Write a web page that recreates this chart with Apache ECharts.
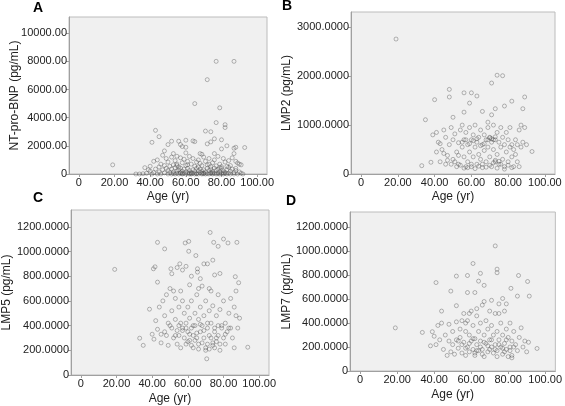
<!DOCTYPE html>
<html>
<head>
<meta charset="utf-8">
<script src="https://cdn.jsdelivr.net/npm/echarts@6/dist/echarts.min.js"></script>
<style>html,body{margin:0;padding:0;background:#fff}#c{width:565px;height:406px}</style>
</head>
<body>
<div id="c"></div>
<script>
// ---- data ----
const panelLetters = ['A', 'B', 'C', 'D'];
const yNames = ['NT-pro-BNP (pg/mL)', 'LMP2 (pg/mL)', 'LMP5 (pg/mL)', 'LMP7 (pg/mL)'];
const xName = 'Age (yr)';
const xTicks = [0, 20, 40, 60, 80, 100];
const yTicksA = [0, 2000, 4000, 6000, 8000, 10000];
const yTicksB = [0, 1000, 2000, 3000];
const yTicksC = [0, 200, 400, 600, 800, 1000, 1200];
const yTicksD = [0, 200, 400, 600, 800, 1000, 1200];

const dataA = [[19,650],[43,3100],[45,2650],[41,2250],[77,8000],[87,8000],[72,6700],[65,5000],[79,4700],[77,3650],[82,3500],[82,3300],[71,3050],[74,3000],[76,2500],[80,2430],[52,2330],[56,2330],[60,2400],[64,2350],[65,2300],[57,2090],[58,1950],[60,1900],[50,2090],[72,2140],[74,2280],[87,1830],[88,1900],[93,1880],[48,1640],[47,1330],[53,1450],[55,1260],[60,1500],[68,1450],[69,1400],[76,1450],[80,1780],[83,2000],[87,1450],[89,780],
[42,900],[44,1000],[46,700],[49,1100],[50,850],[52,1200],[54,950],[55,700],[57,1150],[58,800],[59,1050],[61,900],[62,1250],[63,700],[64,1100],[66,850],[67,1000],[68,750],[70,1200],[71,900],[72,650],[73,1100],[75,800],[76,1000],[78,1250],[79,700],[81,1100],[82,850],[84,950],[85,600],[86,1150],[88,900],[90,700],[91,650],[40,550],[45,500],[48,600],[51,550],[53,650],[56,500],[60,600],[65,550],[69,600],[74,520],[77,580],[80,520],[83,540],[37,450],[39,300],
[32,0],[34,0],[36,20],[38,50],[40,200],[41,0],[42,100],[43,350],[44,0],[45,150],[46,0],[47,300],[48,80],[49,400],[50,0],[50,250],[51,100],[52,0],[52,350],[53,150],[54,0],[54,450],[55,200],[55,50],[56,0],[56,300],[57,100],[57,420],[58,0],[58,200],[59,50],[59,350],[60,0],[60,150],[61,400],[61,80],[62,0],[62,250],[63,120],[63,0],[64,300],[64,50],[65,0],[65,180],[66,400],[66,30],[67,0],[67,220],[68,100],[68,350],[69,0],[69,200],[70,60],[70,300],[71,0],[71,150],[72,400],[72,20],[73,0],[73,250],[74,100],[74,350],[75,0],[75,180],[76,40],[76,420],[77,0],[77,260],[78,90],[78,330],[79,0],[79,150],[80,50],[80,400],[81,0],[81,230],[82,120],[83,0],[83,300],[84,60],[85,0],[85,200],[86,350],[87,0],[87,100],[88,250],[89,0],[90,150],[91,50],[92,0],[58,30],[62,60],[66,10],[70,20],[74,40],[78,10],[82,30],[55,600],[61,650],[67,500],[73,700],[79,450],[84,480],[88,400],[53,30],[57,60],[63,30],[69,40],[75,70],[81,80]];

const dataB = [[19,2760],[74,2020],[77,2010],[71,1860],[48,1730],[48,1575],[40,1520],[56,1660],[60,1660],[63,1595],[59,1450],[89,1575],[82,1490],[88,1335],[78,1390],[73,1335],[35,1110],[50,1160],[56,1265],[66,1280],[71,1210],[69,1060],[93,460],[33,170],[38,240],
[39,800],[41,850],[42,650],[43,620],[44,500],[45,900],[46,750],[47,380],[48,600],[49,950],[50,700],[50,300],[51,820],[52,450],[53,640],[53,200],[54,900],[55,550],[55,1000],[56,700],[56,350],[57,850],[57,150],[58,600],[58,250],[59,950],[59,450],[60,700],[60,150],[61,800],[61,350],[62,550],[62,1000],[63,650],[63,200],[64,750],[64,400],[65,900],[65,300],[66,600],[66,130],[67,800],[67,480],[68,700],[68,250],[69,950],[69,550],[70,750],[70,350],[71,650],[71,150],[72,1000],[72,500],[73,700],[73,250],[74,850],[74,400],[75,650],[75,200],[76,950],[76,550],[77,750],[77,300],[78,600],[78,150],[79,850],[79,450],[80,700],[80,250],[81,550],[81,950],[82,600],[82,350],[83,500],[83,150],[84,700],[84,400],[85,600],[85,250],[86,900],[86,150],[87,1000],[87,550],[88,650],[89,950],[90,600],
[52,150],[54,180],[56,120],[58,130],[60,200],[62,110],[64,160],[66,200],[68,140],[70,180],[72,230],[74,120],[76,200],[78,100],[80,180],[82,130],[73,280],[75,260],[55,650],[57,700],[59,620],[61,680],[63,720],[65,580],[67,620],[69,700],[71,720],[73,760],[70,740],[72,700],[45,420],[47,280],[43,250],[41,450],[49,200],[51,250],[53,380],[46,200]];

const dataC = [[19,855],[72.5,1154],[43,1074],[47,1021],[58.5,1069],[60.5,1082],[74.5,1074],[80,1101],[82.5,1069],[87.5,1074],[77,1042],[60.5,1002],[64.5,967],[40.7,860],[41.6,876],[50.5,860],[55.5,900],[59,880],[71,900],[74,930],[65.4,860],[65.4,833],[78,822],[86.6,796],[88.5,747],[43,752],[38.5,533],[33,298],[35,240],[93.6,225],[70.6,131],
[40,330],[41,290],[42,440],[43,370],[44,550],[45,260],[46,600],[47,480],[48,650],[48,320],[49,240],[50,700],[50,400],[51,520],[52,300],[52,680],[53,450],[54,360],[54,250],[55,550],[55,320],[56,420],[56,680],[56,220],[57,380],[57,600],[58,300],[58,500],[59,420],[59,250],[60,550],[60,350],[61,280],[61,460],[62,600],[62,380],[63,320],[63,220],[64,500],[64,400],[65,300],[65,650],[66,450],[66,250],[67,350],[67,550],[68,400],[68,720],[69,300],[69,480],[70,220],[70,600],[71,380],[71,250],[72,520],[72,320],[73,420],[73,680],[74,260],[74,560],[75,380],[75,220],[76,480],[76,300],[77,650],[77,400],[78,250],[78,530],[79,380],[80,300],[80,600],[81,420],[81,250],[82,350],[83,500],[84,380],[85,300],[86,220],[86,550],[87,480],[88,380],[89,460],[84,620],[87,680],[67,780],[69,900],[62,800],[57,850],[54,870],[51,820],[75,810],[72,700],[66,700],[53,620],[61,730],
[45,330],[47,350],[49,420],[51,380],[53,320],[55,400],[57,360],[59,380],[61,330],[63,400],[65,340],[67,410],[69,360],[71,420],[73,300],[75,350],[77,320],[79,400],[81,330],[83,380],[60,270],[62,240],[64,280],[66,210],[68,260],[70,200],[72,210],[74,240],[76,270],[78,200]];

const dataD = [[19,360],[73,1044],[61,897],[74,850],[74,820],[41,738],[52,792],[58,797],[65,815],[64,750],[67,715],[49,667],[58,655],[62,655],[85.6,797],[90.5,747],[91.4,625],[81.5,690],[77,605],[85,625],[33.6,322],[39,328],[44,500],[52,545],[95.6,188],
[38,210],[40,290],[41,220],[42,380],[43,260],[44,400],[45,180],[46,300],[47,130],[48,250],[48,390],[49,160],[50,330],[50,220],[51,140],[52,410],[52,260],[53,190],[54,350],[54,280],[55,420],[55,150],[56,240],[56,480],[57,130],[57,330],[58,200],[58,420],[59,300],[59,160],[60,500],[60,250],[61,180],[61,380],[62,270],[62,150],[63,460],[63,220],[64,330],[64,170],[65,250],[65,400],[66,180],[66,550],[67,300],[67,120],[68,230],[68,420],[69,160],[69,350],[70,500],[70,260],[71,200],[71,380],[72,150],[72,300],[73,480],[73,220],[74,330],[74,170],[75,260],[75,560],[76,200],[76,400],[77,300],[77,140],[78,230],[78,500],[79,180],[79,350],[80,280],[80,120],[81,400],[81,200],[82,250],[82,130],[83,330],[84,220],[85,170],[86,280],[87,360],[88,200],[89,250],[90,160],[91,240],
[57,400],[59,480],[63,520],[67,580],[71,590],[75,480],[79,560],[53,250],[55,220],[57,190],[59,230],[61,270],[63,170],[65,200],[67,240],[69,210],[71,260],[73,180],[75,220],[77,190],[79,260],[81,170],[83,200],[62,130],[66,140],[70,180],[74,120],[78,160],[82,110]];

// ---- layout ----
const FONT = 'Liberation Sans, Arial, sans-serif';
const panels = [
  {data: dataA, yTicks: yTicksA, ymax: 11150, dec: 2, grid: {left: 69, top: 17, width: 198, height: 157}, nameGap: 48, xGap: 17, letter: [38, 8]},
  {data: dataB, yTicks: yTicksB, ymax: 3313, dec: 4, grid: {left: 351, top: 12, width: 204, height: 162}, nameGap: 58, xGap: 17, letter: [287, 6]},
  {data: dataC, yTicks: yTicksC, ymax: 1336, dec: 4, grid: {left: 69, top: 210, width: 200, height: 167}, nameGap: 58, xGap: 18, letter: [38, 198]},
  {data: dataD, yTicks: yTicksD, ymax: 1327, dec: 4, grid: {left: 350, top: 212, width: 206, height: 159}, nameGap: 57, xGap: 18, letter: [291, 201]}
];

const lineCol = '#a0a0a0';
const option = {
  animation: false,
  backgroundColor: '#fff',
  grid: [], xAxis: [], yAxis: [], series: [],
  graphic: []
};

panels.forEach((p, i) => {
  option.grid.push(Object.assign({show: true, backgroundColor: '#f0f0f0', borderColor: '#bcbcbc', borderWidth: 1}, p.grid));
  option.xAxis.push({
    gridIndex: i, type: 'value', min: -5.5, max: 105.5,
    name: xName, nameLocation: 'middle', nameGap: p.xGap, nameMoveOverlap: false,
    nameTextStyle: {color: '#222', fontFamily: FONT, fontSize: 12, fontWeight: 'normal'},
    axisLine: {show: true, onZero: false, lineStyle: {color: lineCol, width: 1}},
    splitLine: {show: false},
    axisTick: {show: true, length: 3, lineStyle: {color: lineCol}, customValues: xTicks},
    axisLabel: {customValues: xTicks, color: '#222', fontFamily: FONT, fontSize: 11, margin: 3,
      formatter: v => v === 0 ? '0' : v.toFixed(2)}
  });
  option.yAxis.push({
    gridIndex: i, type: 'value', min: 0, max: p.ymax,
    name: yNames[i], nameLocation: 'middle', nameGap: p.nameGap, nameRotate: 90, nameMoveOverlap: false,
    nameTextStyle: {color: '#222', fontFamily: FONT, fontSize: 12, fontWeight: 'normal'},
    axisLine: {show: true, onZero: false, lineStyle: {color: lineCol, width: 1}},
    splitLine: {show: false},
    axisTick: {show: true, length: 3, lineStyle: {color: lineCol}, customValues: p.yTicks},
    axisLabel: {customValues: p.yTicks, color: '#222', fontFamily: FONT, fontSize: 11, margin: 2,
      formatter: v => v === 0 ? '0' : v.toFixed(p.dec)}
  });
  option.series.push({
    type: 'scatter', xAxisIndex: i, yAxisIndex: i, data: p.data,
    symbol: 'circle', symbolSize: 4,
    itemStyle: {color: 'rgba(0,0,0,0)', borderColor: 'rgba(70,70,70,0.6)', borderWidth: 0.8}
  });
  option.graphic.push({
    type: 'text', left: p.letter[0] - 5, top: p.letter[1] - 7,
    style: {text: panelLetters[i], fontFamily: FONT, fontSize: 14, fontWeight: 'bold', fill: '#000'}
  });
});

const chart = echarts.init(document.getElementById('c'), null, {renderer: 'canvas'});
chart.setOption(option);
</script>
</body>
</html>
